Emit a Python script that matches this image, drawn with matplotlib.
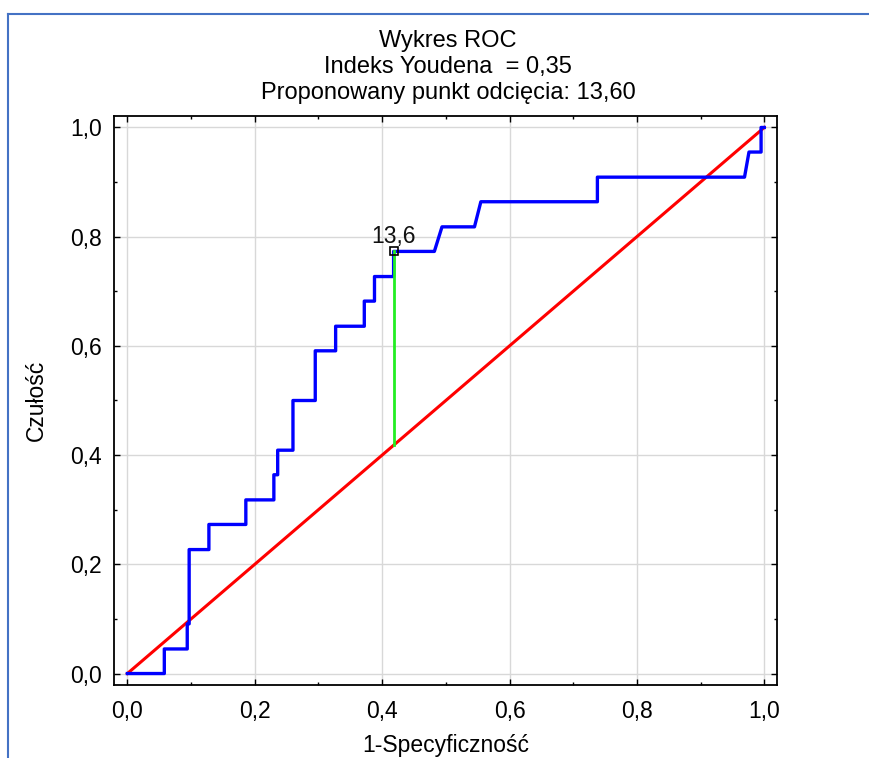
import numpy as np
import matplotlib
matplotlib.use("Agg")
import matplotlib.pyplot as plt
from matplotlib.lines import Line2D
from matplotlib.ticker import MultipleLocator

plt.rcParams['font.family'] = ['Liberation Sans', 'DejaVu Sans']

# ROC curve
fpr = [0.0, 0.058, 0.058, 0.094, 0.094, 0.097, 0.097, 0.128, 0.128, 0.186, 0.186,
       0.230, 0.230, 0.236, 0.236, 0.260, 0.260, 0.295, 0.295, 0.327, 0.327,
       0.372, 0.372, 0.388, 0.388, 0.418, 0.418, 0.482, 0.494, 0.545, 0.555,
       0.738, 0.738, 0.969, 0.976, 0.995, 0.995, 1.0]
tpr = [0.0, 0.0, 0.045, 0.045, 0.091, 0.091, 0.227, 0.227, 0.273, 0.273, 0.318,
       0.318, 0.364, 0.364, 0.409, 0.409, 0.500, 0.500, 0.591, 0.591, 0.636,
       0.636, 0.682, 0.682, 0.727, 0.727, 0.773, 0.773, 0.818, 0.818, 0.864,
       0.864, 0.909, 0.909, 0.955, 0.955, 1.0, 1.0]

cut_fpr = 0.418
cut_tpr = 0.773
cut_label = "13,6"

ticks = [0.0, 0.2, 0.4, 0.6, 0.8, 1.0]
tick_labels = ["0,0", "0,2", "0,4", "0,6", "0,8", "1,0"]

title_lines = ["Wykres ROC", "Indeks Youdena  = 0,35", "Proponowany punkt odcięcia: 13,60"]

fig = plt.figure(figsize=(8.7, 7.58), dpi=100)
W, H = 870, 758
ax = fig.add_axes([114 / W, 1 - 685 / H, (777 - 114) / W, (685 - 116) / H])

ax.plot([0, 1], [0, 1], color='#ff0000', linewidth=2.2, zorder=3)
ax.plot(fpr, tpr, color='#0000ff', linewidth=2.4, zorder=4)
ax.plot([cut_fpr, cut_fpr], [cut_fpr, cut_tpr], color='#22ee22', linewidth=2.0, zorder=5)
ax.plot([cut_fpr], [cut_tpr], marker='s', markersize=6, markerfacecolor='none',
        markeredgecolor='black', markeredgewidth=1.2, zorder=6)
ax.text(cut_fpr, cut_tpr + 0.006, cut_label, ha='center', va='bottom',
        fontsize=16.5, color='#111111', zorder=7)

ax.set_xlim(-0.021, 1.020)
ax.set_ylim(-0.021, 1.021)
ax.set_xticks(ticks)
ax.set_xticklabels(tick_labels)
ax.set_yticks(ticks)
ax.set_yticklabels(tick_labels)
ax.xaxis.set_minor_locator(MultipleLocator(0.1))
ax.yaxis.set_minor_locator(MultipleLocator(0.1))
ax.tick_params(which='both', direction='in', top=True, right=True, width=1.0,
               color='black')
ax.tick_params(which='major', length=4, labelsize=16.5)
ax.tick_params(axis='x', which='major', pad=11)
ax.tick_params(axis='y', which='major', pad=9)
ax.tick_params(which='minor', length=2)
ax.grid(True, which='major', color='#d8d8d8', linewidth=1.0, zorder=0)
ax.set_axisbelow(True)
for s in ax.spines.values():
    s.set_linewidth(1.3)
    s.set_color('black')

ax.set_xlabel("1-Specyficzność", fontsize=16.5)
ax.xaxis.set_label_coords(0.5, -0.086)
ax.set_ylabel("Czułość", fontsize=16.5)
ax.yaxis.set_label_coords(-0.10, 0.5)

for i, line in enumerate(title_lines):
    fig.text(448 / W, 1 - (41 + i * 26) / H, line, ha='center', va='center',
             fontsize=17)

# blue frame around the screenshot
fig.add_artist(Line2D([8 / W, 8 / W], [0, 1 - 14 / H], transform=fig.transFigure,
                      color='#4472c4', linewidth=1.5))
fig.add_artist(Line2D([8 / W, 1], [1 - 14 / H, 1 - 14 / H], transform=fig.transFigure,
                      color='#4472c4', linewidth=1.5))

fig.savefig("out.png", dpi=100, facecolor='white')
